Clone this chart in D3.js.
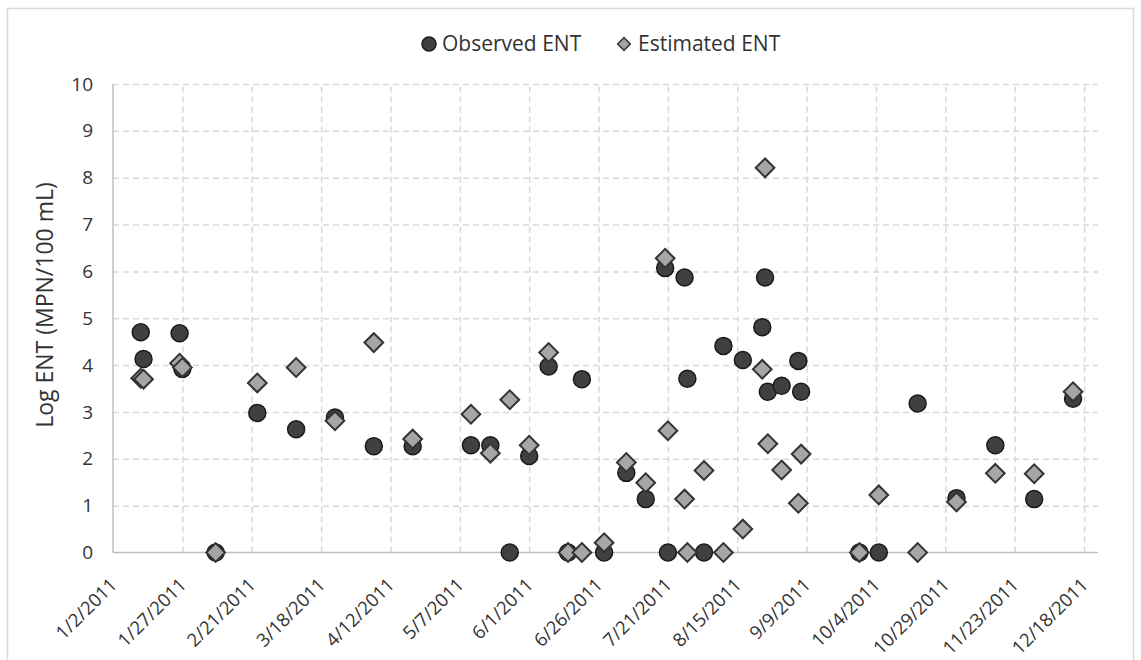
<!DOCTYPE html>
<html>
<head>
<meta charset="utf-8">
<script src="https://cdn.jsdelivr.net/npm/d3@7"></script>
<style>
  body { margin: 0; background: #fff; }
  svg { display: block; font-family: "Open Sans", sans-serif; }
</style>
</head>
<body>
<svg id="chart" width="1141" height="660"></svg>
<script>
// sample dates (2011) and the two series
const dates = ['1/12/2011', '1/13/2011', '1/26/2011', '1/27/2011', '2/8/2011', '2/23/2011', '3/9/2011',
    '3/23/2011', '4/6/2011', '4/20/2011', '5/11/2011', '5/18/2011', '5/25/2011', '6/1/2011', '6/8/2011',
    '6/15/2011', '6/20/2011', '6/28/2011', '7/6/2011', '7/13/2011', '7/20/2011', '7/21/2011', '7/27/2011',
    '7/28/2011', '8/3/2011', '8/10/2011', '8/17/2011', '8/24/2011', '8/25/2011', '8/26/2011', '8/31/2011',
    '9/6/2011', '9/7/2011', '9/28/2011', '10/5/2011', '10/19/2011', '11/2/2011', '11/16/2011', '11/30/2011',
    '12/14/2011'];
const observed = [4.70, 4.13, 4.68, 3.92, 0, 2.98, 2.63, 2.88, 2.27, 2.27, 2.29, 2.29, 0, 2.06, 3.97,
    0, 3.70, 0, 1.70, 1.14, 6.07, 0, 5.87, 3.71, 0, 4.41, 4.11, 4.81, 5.87, 3.43, 3.56,
    4.09, 3.43, 0, 0, 3.18, 1.16, 2.29, 1.14, 3.28];
const estimated = [3.72, 3.70, 4.04, 3.95, 0, 3.62, 3.95, 2.81, 4.48, 2.42, 2.95, 2.12, 3.26, 2.29, 4.27,
    0, 0, 0.21, 1.92, 1.49, 6.28, 2.60, 1.14, 0, 1.75, 0, 0.50, 3.91, 8.21, 2.32, 1.76,
    1.05, 2.10, 0, 1.23, 0, 1.08, 1.69, 1.68, 3.43];

const xTicks = ['1/2/2011', '1/27/2011', '2/21/2011', '3/18/2011', '4/12/2011', '5/7/2011', '6/1/2011',
    '6/26/2011', '7/21/2011', '8/15/2011', '9/9/2011', '10/4/2011', '10/29/2011', '11/23/2011', '12/18/2011'];
const yTicks = [0, 1, 2, 3, 4, 5, 6, 7, 8, 9, 10];
const xMin = '1/2/2011';
const xMax = '12/23/2011';

const LEFT = 113;
const RIGHT = 1098;
const TOP = 84;
const BOTTOM = 552.5;

const parse = d3.timeParse('%m/%d/%Y');
const fmt = d3.timeFormat('%-m/%-d/%Y');

const svg = d3.select('#chart');

// outer chart border
svg.append('path')
    .attr('d', 'M7.5,670 V8.5 H1133.5 V670')
    .attr('fill', 'none')
    .attr('stroke', '#d9d9d9')
    .attr('stroke-width', 1.5);

const xScale = d3.scaleTime()
    .domain([parse(xMin), parse(xMax)])
    .range([LEFT, RIGHT]);

const yScale = d3.scaleLinear()
    .domain([0, 10])
    .range([BOTTOM, TOP]);

// gridlines
svg.append('g')
    .attr('transform', 'translate(' + LEFT + ',0)')
    .call(d3.axisLeft(yScale).tickValues(yTicks.slice(1)).tickSize(-(RIGHT - LEFT)).tickFormat(''))
    .call(g => g.select('.domain').remove())
    .selectAll('line')
    .attr('stroke', '#d9d9d9')
    .attr('stroke-width', 1.5)
    .attr('stroke-dasharray', '6,4');

svg.append('g')
    .attr('transform', 'translate(0,' + BOTTOM + ')')
    .call(d3.axisBottom(xScale).tickValues(xTicks.slice(1).map(parse)).tickSize(-(BOTTOM - TOP)).tickFormat(''))
    .call(g => g.select('.domain').remove())
    .selectAll('line')
    .attr('stroke', '#d9d9d9')
    .attr('stroke-width', 1.5)
    .attr('stroke-dasharray', '6,4');

// axis lines
svg.append('line')
    .attr('x1', LEFT).attr('x2', LEFT)
    .attr('y1', TOP).attr('y2', BOTTOM)
    .attr('stroke', '#bfbfbf')
    .attr('stroke-width', 1.5);
svg.append('line')
    .attr('x1', LEFT).attr('x2', RIGHT)
    .attr('y1', BOTTOM).attr('y2', BOTTOM)
    .attr('stroke', '#bfbfbf')
    .attr('stroke-width', 1.5);

// y tick labels
const yAxis = svg.append('g')
    .attr('transform', 'translate(' + LEFT + ',0)')
    .call(d3.axisLeft(yScale).tickValues(yTicks).tickSize(0).tickPadding(20));
yAxis.select('.domain').remove();
yAxis.selectAll('text')
    .attr('font-family', '"Open Sans", sans-serif')
    .attr('font-size', 19)
    .attr('fill', '#333');

// x tick labels, rotated
const xAxis = svg.append('g')
    .attr('transform', 'translate(0,' + BOTTOM + ')')
    .call(d3.axisBottom(xScale).tickValues(xTicks.map(parse)).tickSize(0).tickFormat(fmt));
xAxis.select('.domain').remove();
xAxis.selectAll('text')
    .attr('font-family', '"Open Sans", sans-serif')
    .attr('font-size', 18.5)
    .attr('fill', '#333')
    .attr('text-anchor', 'end')
    .attr('x', 0)
    .attr('y', 0)
    .attr('dy', '0.35em')
    .attr('transform', 'translate(0,29) rotate(-45)');

// y axis title
svg.append('text')
    .attr('transform', 'translate(45,305) rotate(-90)')
    .attr('text-anchor', 'middle')
    .attr('dy', '0.35em')
    .attr('font-size', 23)
    .attr('fill', '#333')
    .text('Log ENT (MPN/100 mL)');

// points
svg.append('g').selectAll('circle')
    .data(dates)
    .enter()
    .append('circle')
    .attr('cx', (d, i) => xScale(parse(d)))
    .attr('cy', (d, i) => yScale(observed[i]))
    .attr('r', 8.5)
    .attr('fill', '#404040')
    .attr('stroke', '#1a1a1a')
    .attr('stroke-width', 1.5);

// square rotated 45 degrees -> diamond
const diamond = d3.symbol(d3.symbolSquare, 175);
svg.append('g').selectAll('path')
    .data(dates)
    .enter()
    .append('path')
    .attr('d', diamond)
    .attr('transform', (d, i) => 'translate(' + xScale(parse(d)) + ',' + yScale(estimated[i]) + ') rotate(45)')
    .attr('fill', '#a6a6a6')
    .attr('stroke', '#333')
    .attr('stroke-width', 2);

// legend
const legend = svg.append('g');
legend.append('circle')
    .attr('cx', 429).attr('cy', 44).attr('r', 7)
    .attr('fill', '#404040').attr('stroke', '#1a1a1a').attr('stroke-width', 1.5);
legend.append('text')
    .attr('x', 442).attr('y', 44).attr('dy', '0.35em')
    .attr('font-size', 21).attr('fill', '#333')
    .text('Observed ENT');
legend.append('path')
    .attr('d', d3.symbol(d3.symbolSquare, 80))
    .attr('transform', 'translate(624,44) rotate(45)')
    .attr('fill', '#a6a6a6').attr('stroke', '#333').attr('stroke-width', 1.5);
legend.append('text')
    .attr('x', 638).attr('y', 44).attr('dy', '0.35em')
    .attr('font-size', 21).attr('fill', '#333')
    .text('Estimated ENT');
</script>
</body>
</html>
